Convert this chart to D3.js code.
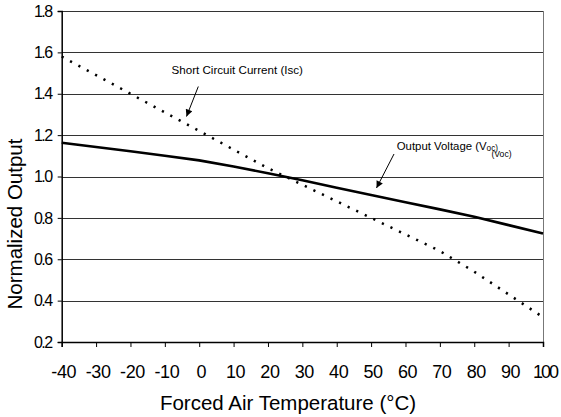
<!DOCTYPE html>
<html><head><meta charset="utf-8">
<script src="https://cdn.jsdelivr.net/npm/d3@7/dist/d3.min.js"></script>
<style>
body{margin:0;background:#fff;}
svg{display:block;font-family:"Liberation Sans",Arial,Helvetica,sans-serif;}
</style></head>
<body>
<svg id="chart" width="561" height="417"></svg>
<script>
const temperatures = [-40,-30,-20,-10,0,10,20,30,40,50,60,70,80,90,100];
const iscValues = [1.58,1.49,1.40,1.31,1.22,1.13,1.04,0.96,0.88,0.80,0.72,0.64,0.54,0.43,0.32];
const vocValues = [1.163,1.143,1.122,1.100,1.078,1.048,1.016,0.982,0.946,0.911,0.876,0.841,0.805,0.765,0.725];
const xTicks = [-40,-30,-20,-10,0,10,20,30,40,50,60,70,80,90,100];
const yTicks = [0.2,0.4,0.6,0.8,1.0,1.2,1.4,1.6,1.8];
const xTitle = "Forced Air Temperature (°C)";
const yTitle = "Normalized Output";
const iscLabel = "Short Circuit Current (Isc)";
const vocLabel = "Output Voltage (V";
const vocSub = "oc)";
const vocExtra = "(Voc)";

(function(){
const svg = d3.select("#chart");
const pLeft = 61.7, pRight = 543, pTop = 11, pBottom = 342;
const x = d3.scaleLinear().domain([-40,100]).range([pLeft,pRight]);
const y = d3.scaleLinear().domain([0.2,1.8]).range([pBottom,pTop]);

svg.append("defs").append("marker")
  .attr("id","arr").attr("viewBox","0 0 10 10").attr("refX",10).attr("refY",5)
  .attr("markerWidth",9).attr("markerHeight",7).attr("markerUnits","userSpaceOnUse")
  .attr("orient","auto")
  .append("path").attr("d","M0,0 L10,5 L0,10 Z").attr("fill","#000");

// gridlines
svg.append("g").selectAll("line").data(yTicks.filter(v=>v>0.2)).join("line")
  .attr("x1",pLeft).attr("x2",pRight)
  .attr("y1",d=>Math.round(y(d))+0.5).attr("y2",d=>Math.round(y(d))+0.5)
  .attr("stroke","#333").attr("stroke-width",1);
// right border
svg.append("line").attr("x1",pRight+0.5).attr("x2",pRight+0.5).attr("y1",pTop).attr("y2",pBottom)
  .attr("stroke","#777").attr("stroke-width",1);

// axes
const xAxis = svg.append("g").attr("transform",`translate(0,${pBottom})`)
  .call(d3.axisBottom(x).tickValues(xTicks).tickSize(5).tickPadding(18).tickFormat(d=>String(d)));
xAxis.select(".domain").attr("stroke","#000").attr("stroke-width",1.5);
xAxis.selectAll(".tick line").attr("stroke","#000");
xAxis.selectAll(".tick text").attr("font-size",18).attr("fill","#000")
  .attr("font-family","Liberation Sans, Arial, sans-serif")
  .attr("dx",1.5)
  .attr("letter-spacing",d=>d===100?-2:-0.4);

const yAxis = svg.append("g").attr("transform",`translate(${pLeft},0)`)
  .call(d3.axisLeft(y).tickValues(yTicks).tickSize(4).tickPadding(6).tickFormat(d3.format(".1f")));
yAxis.select(".domain").attr("stroke","#000").attr("stroke-width",1.5);
yAxis.selectAll(".tick line").attr("stroke","#000");
yAxis.selectAll(".tick text").attr("font-size",16).attr("fill","#000")
  .attr("font-family","Liberation Sans, Arial, sans-serif")
  .attr("letter-spacing",-1.5);

// lines
const line = d3.line().x((d,i)=>x(temperatures[i])).y(d=>y(d));
svg.append("path").datum(iscValues).attr("d",line)
  .attr("fill","none").attr("stroke","#000").attr("stroke-width",2.5)
  .attr("stroke-dasharray","2.2,7.3");
svg.append("path").datum(vocValues).attr("d",line)
  .attr("fill","none").attr("stroke","#000").attr("stroke-width",2.6);

// annotations
svg.append("text").attr("x",171.5).attr("y",74).attr("font-size",11.6).text(iscLabel);
svg.append("line").attr("x1",198.3).attr("y1",86.5).attr("x2",186.5).attr("y2",116.5)
  .attr("stroke","#000").attr("stroke-width",1).attr("marker-end","url(#arr)");

const vt = svg.append("text").attr("x",396.7).attr("y",149.5).attr("font-size",11.4);
vt.append("tspan").text(vocLabel);
vt.append("tspan").attr("font-size",8.2).attr("dy",1.5).text(vocSub);
svg.append("text").attr("x",491.5).attr("y",157).attr("font-size",8.6).text(vocExtra);
svg.append("line").attr("x1",394).attr("y1",154).attr("x2",376.5).attr("y2",188)
  .attr("stroke","#000").attr("stroke-width",1).attr("marker-end","url(#arr)");

// titles
svg.append("text").attr("x",288).attr("y",410).attr("text-anchor","middle")
  .attr("font-size",20.5).text(xTitle);
svg.append("text").attr("transform","translate(22,224) rotate(-90)").attr("text-anchor","middle")
  .attr("font-size",20.5).text(yTitle);
})();
</script>
</body></html>
